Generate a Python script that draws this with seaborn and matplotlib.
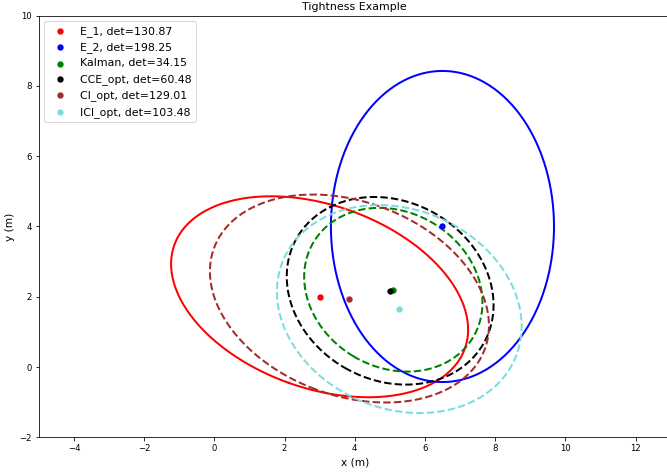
import numpy as np
import matplotlib
matplotlib.use('Agg')
import matplotlib.pyplot as plt
import seaborn as sns

# estimates: name, centre, covariance
names = ['E_1', 'E_2', 'Kalman', 'CCE_opt', 'CI_opt', 'ICI_opt']
dets = [130.87, 198.25, 34.15, 60.48, 129.01, 103.48]
centre_x = [3.0, 6.5, 5.10, 5.01, 3.85, 5.27]
centre_y = [2.0, 4.0, 2.20, 2.17, 1.95, 1.65]
cov_xx = [17.9, 10.1, 6.45, 8.68, 15.8, 12.15]
cov_yy = [8.18, 19.6, 5.43, 7.13, 8.76, 8.76]
cov_xy = [-3.95, 0.0, -0.93, -1.2, -3.07, -1.72]

colors = ['red', 'blue', 'green', 'black', 'brown', '#7adcdc']
styles = ['-', '-', '--', '--', '--', '--']

fig = plt.figure(figsize=(667 / 72, 473 / 72), dpi=72)
# axes run past the right edge, the reference is cropped there
ax = fig.add_axes([38.8 / 667, 35.7 / 473, 18 * 35.1 / 667, 421.6 / 473])

t = np.linspace(0, 2 * np.pi, 400)
circle = np.vstack([np.cos(t), np.sin(t)])
for i in range(len(names)):
  cov = np.array([[cov_xx[i], cov_xy[i]], [cov_xy[i], cov_yy[i]]])
  vals, vecs = np.linalg.eigh(cov)
  pts = vecs @ np.diag(np.sqrt(vals)) @ circle
  ax.plot(centre_x[i] + pts[0], centre_y[i] + pts[1],
          linestyle=styles[i], color=colors[i], linewidth=2)

for i in range(len(names)):
  sns.scatterplot(x=[centre_x[i]], y=[centre_y[i]], color=colors[i],
                  s=40, linewidth=0, zorder=3, ax=ax,
                  label=f'{names[i]}, det={dets[i]:.2f}')

ax.legend(loc='upper left', fontsize=11)
ax.set_xlim(-5, 13)
ax.set_ylim(-2, 10)
ax.tick_params(labelsize=8.5)
ax.set_xlabel('x (m)', fontsize=10.5)
ax.set_ylabel('y (m)', fontsize=10.5)
ax.set_title('Tightness Example', fontsize=11)

fig.savefig('out.png', dpi=72)
